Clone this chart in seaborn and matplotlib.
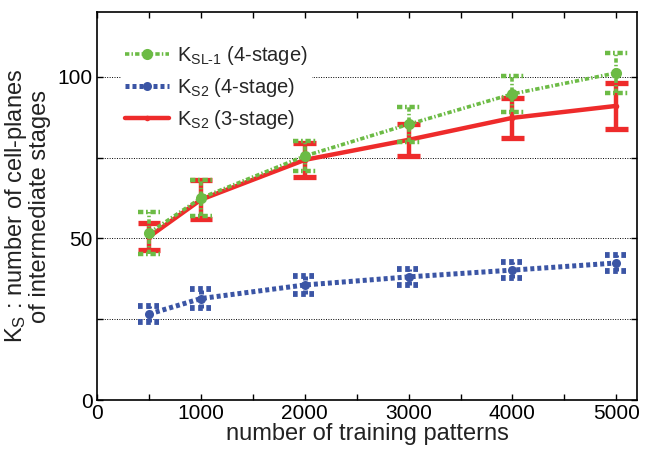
import matplotlib
matplotlib.use("Agg")
import matplotlib.pyplot as plt
import seaborn as sns
import pandas as pd
from matplotlib.ticker import MultipleLocator

# number of training patterns
patterns = [500, 1000, 2000, 3000, 4000, 5000]

# K_SL-1, 4-stage network
ksl1_4 = [51.7, 62.5, 75.5, 85.3, 94.7, 101.2]
ksl1_4_err = [6.5, 5.5, 4.5, 5.4, 5.5, 6.2]

# K_S2, 4-stage network
ks2_4 = [26.6, 31.4, 35.6, 38.1, 40.2, 42.4]
ks2_4_err = [2.6, 3.0, 2.8, 2.5, 2.5, 2.5]

# K_S2, 3-stage network
ks2_3 = [50.5, 62.0, 74.3, 80.5, 87.3, 91.0]
ks2_3_err = [4.2, 6.0, 5.3, 5.0, 6.2, 7.1]

labels = ["K$_{\\mathregular{SL\u20101}}$ (4-stage)",
          "K$_{\\mathregular{S2}}$ (4-stage)",
          "K$_{\\mathregular{S2}}$ (3-stage)"]

sns.set_theme(style="ticks")
plt.rcParams["font.family"] = ["Liberation Sans", "DejaVu Sans"]
plt.rcParams["mathtext.fontset"] = "custom"
plt.rcParams["mathtext.rm"] = "Liberation Sans"
plt.rcParams["mathtext.it"] = "Liberation Sans"
plt.rcParams["mathtext.default"] = "regular"

fig = plt.figure(figsize=(6.52, 4.5), dpi=100)
ax = fig.add_axes([0.149, 0.111, 0.828, 0.862])

green = "#6cbb45"
blue = "#3b55a5"
red = "#ee2b2b"

series = [
    (ksl1_4, ksl1_4_err, green, (0, (1.2, 0.6, 0.4, 0.6)), 2.6, 8, 3),
    (ks2_4, ks2_4_err, blue, (0, (0.8, 0.6)), 3.6, 6.5, 2),
    (ks2_3, ks2_3_err, red, "-", 3.2, 4, 1),
]

cap_half = 110
for (vals, errs, color, ls, lw, ms, z), lab in zip(series, labels):
    df = pd.DataFrame({"x": patterns, "y": vals})
    sns.lineplot(data=df, x="x", y="y", ax=ax, color=color, linestyle=ls,
                 linewidth=lw, marker="o", markersize=ms,
                 markeredgewidth=0, label=lab, zorder=z)
    lo = [v - e for v, e in zip(vals, errs)]
    hi = [v + e for v, e in zip(vals, errs)]
    ax.vlines(patterns, lo, hi, colors=color, linestyles=ls, linewidth=lw,
              zorder=z)
    for edge in (lo, hi):
        ax.hlines(edge, [p - cap_half for p in patterns],
                  [p + cap_half for p in patterns], colors=color,
                  linestyles=ls, linewidth=lw + 0.6, zorder=z)

# dotted reference lines
for yv in (25, 50, 75, 100):
    ax.axhline(yv, color="black", linestyle=(0, (1, 1.5)), linewidth=0.7,
               zorder=0)

ax.set_xlim(0, 5200)
ax.set_ylim(0, 120)
ax.xaxis.set_major_locator(MultipleLocator(1000))
ax.xaxis.set_minor_locator(MultipleLocator(500))
ax.yaxis.set_major_locator(MultipleLocator(50))
ax.yaxis.set_minor_locator(MultipleLocator(25))
ax.tick_params(which="both", direction="in", top=True, right=True,
               labelsize=15, colors="black", pad=3, length=4.5, width=1)
for s in ax.spines.values():
    s.set_color("black")
    s.set_linewidth(1.2)

ax.set_xlabel("number of training patterns", fontsize=17, labelpad=0,
              color="#222222")
ax.set_ylabel("K$_S$ : number of cell-planes\nof intermediate stages",
              fontsize=17, labelpad=5, color="#222222", linespacing=1.0)

leg = ax.legend(loc="upper left", bbox_to_anchor=(0.025, 0.955), fontsize=14.5,
                frameon=True, framealpha=1, edgecolor="none",
                handlelength=2.2, handletextpad=0.4, labelspacing=0.45,
                borderpad=0.2, fancybox=False)
leg.set_zorder(5)

fig.savefig("out.png", dpi=100)
